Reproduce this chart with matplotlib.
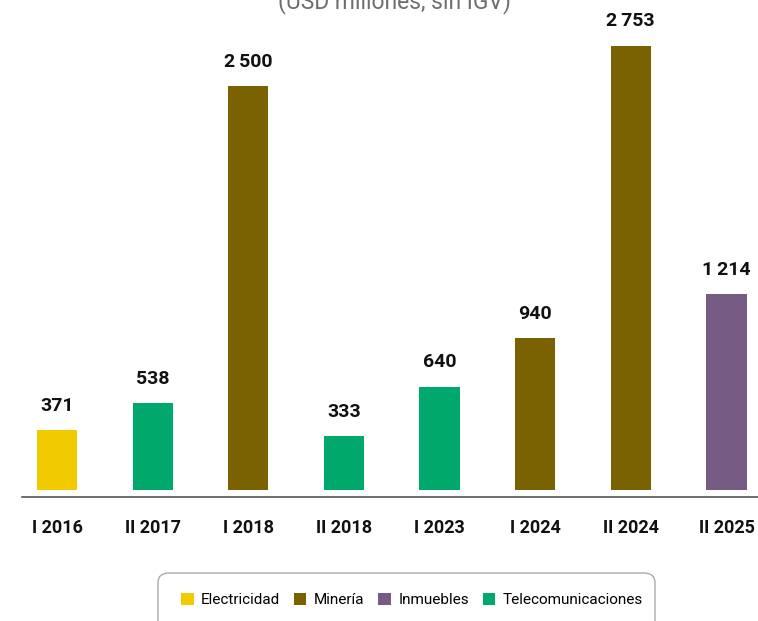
import matplotlib.pyplot as plt
from matplotlib.patches import FancyBboxPatch, Patch

periods = ['I 2016', 'II 2017', 'I 2018', 'II 2018', 'I 2023', 'I 2024', 'II 2024', 'II 2025']
values = [371, 538, 2500, 333, 640, 940, 2753, 1214]
labels = ['371', '538', '2\u2009500', '333', '640', '940', '2\u2009753', '1\u2009214']
sectors = ['Electricidad', 'Telecomunicaciones', 'Minería', 'Telecomunicaciones',
           'Telecomunicaciones', 'Minería', 'Minería', 'Inmuebles']

sector_names = ['Electricidad', 'Minería', 'Inmuebles', 'Telecomunicaciones']
sector_colors = ['#F2CA00', '#7A6200', '#765C84', '#00A96B']
color_of = dict(zip(sector_names, sector_colors))

plt.rcParams['font.family'] = ['Roboto', 'DejaVu Sans']

fig = plt.figure(figsize=(7.58, 6.21), dpi=100)
ax = fig.add_axes([22 / 758, 1 - 497 / 621, 1 - 22 / 758, 497 / 621])

x = list(range(len(periods)))
ax.bar(x, values, width=0.42, color=[color_of[s] for s in sectors])
for xi, v, lab in zip(x, values, labels):
    ax.annotate(lab, (xi, v), xytext=(0, 11), textcoords='offset points',
                ha='center', va='bottom', fontsize=14, fontweight='bold', color='#111111')

ax.set_xlim(-0.366, 7.33)
ax.set_ylim(-45, 3036)
ax.set_xticks(x)
ax.set_xticklabels(periods, fontsize=13, fontweight='bold', color='#111111')
ax.tick_params(axis='x', length=0, pad=16)
ax.set_yticks([])
for side in ['top', 'right', 'left']:
    ax.spines[side].set_visible(False)
ax.spines['bottom'].set_color('#555555')
ax.spines['bottom'].set_linewidth(1.2)

# title is partly cut at the top edge, as in the source
fig.text(395 / 758, 1 - 8 / 621, '(USD millones, sin IGV)', ha='center', va='baseline',
         fontsize=16.5, color='#6e6e6e')

box = FancyBboxPatch((158 / 758, -0.05), 497 / 758, 0.05 + 48 / 621,
                     boxstyle='round,pad=0,rounding_size=0.015', transform=fig.transFigure,
                     facecolor='white', edgecolor='#aaaaaa', linewidth=1)
fig.add_artist(box)

handles = [Patch(facecolor=c, label=n) for n, c in zip(sector_names, sector_colors)]
fig.legend(handles=handles, loc='center', bbox_to_anchor=(412 / 758, 1 - 600 / 621), ncol=4,
           frameon=False, fontsize=11, handlelength=0.8, handleheight=0.8,
           handletextpad=0.5, columnspacing=0.9)

fig.savefig('out.png', dpi=100)
